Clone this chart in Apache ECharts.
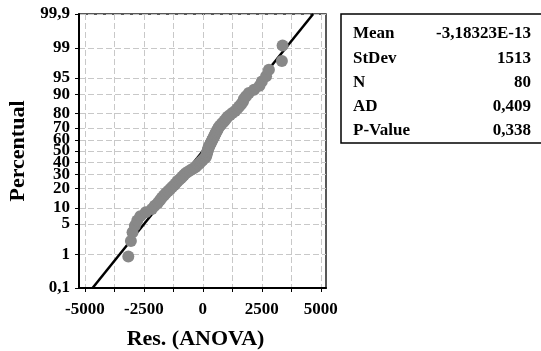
<!DOCTYPE html>
<html>
<head>
<meta charset="utf-8">
<script src="https://cdn.jsdelivr.net/npm/echarts@6/dist/echarts.min.js"></script>
<style>
  html, body { margin: 0; padding: 0; background: #fff; }
  #chart { width: 541px; height: 351px; }
</style>
</head>
<body>
<div id="chart"></div>
<script>
// residuals, sorted
const residuals = [
  -3160, -3050, -2980, -2880, -2780, -2650, -2420, -2160, -2040, -1910,
  -1820, -1740, -1650, -1570, -1470, -1380, -1300, -1220, -1150, -1080,
  -1000, -930, -860, -800, -730, -630, -530, -420, -320, -250,
  -190, -130, -70, -10, 50, 120, 140, 160, 170, 190,
  210, 230, 240, 270, 300, 330, 360, 390, 420, 450,
  480, 510, 540, 570, 610, 640, 680, 740, 800, 860,
  930, 990, 1050, 1150, 1250, 1370, 1460, 1540, 1620, 1700,
  1740, 1830, 1950, 2170, 2400, 2500, 2680, 2800, 3350, 3380
];

// plotted percent of each point
const pctRank = [
  0.87, 2.11, 3.36, 4.60, 5.85, 7.09, 8.33, 9.58, 10.82, 12.06,
  13.31, 14.55, 15.80, 17.04, 18.28, 19.53, 20.77, 22.01, 23.26, 24.50,
  25.75, 26.99, 28.23, 29.48, 30.72, 31.97, 33.21, 34.45, 35.70, 36.94,
  38.18, 39.43, 40.67, 41.92, 43.16, 44.40, 45.65, 46.89, 48.13, 49.38,
  50.62, 51.87, 53.11, 54.35, 55.60, 56.84, 58.08, 59.33, 60.57, 61.82,
  63.06, 64.30, 65.55, 66.79, 68.03, 69.28, 70.52, 71.77, 73.01, 74.25,
  75.50, 76.74, 77.99, 79.23, 80.47, 81.72, 82.96, 84.20, 85.45, 86.69,
  87.94, 89.18, 90.42, 91.67, 92.91, 94.15, 95.40, 96.64, 97.89, 99.13
];

const yTickPct = [0.1, 1, 5, 10, 20, 30, 40, 50, 60, 70, 80, 90, 95, 99, 99.9];
const yTickLabels = ["0,1", "1", "5", "10", "20", "30", "40", "50", "60", "70", "80", "90", "95", "99", "99,9"];
const xTickValues = [-5000, -2500, 0, 2500, 5000];
const xGridValues = [-5000, -3750, -2500, -1250, 0, 1250, 2500, 3750, 5000];

const fitMean = 0;
const fitSd = 1513;

const statLabels = ["Mean", "StDev", "N", "AD", "P-Value"];
const statValues = ["-3,18323E-13", "1513", "80", "0,409", "0,338"];

// inverse normal cdf (Acklam), used as the probability scale
function normInv(p) {
  const a = [-3.969683028665376e+01, 2.209460984245205e+02, -2.759285104469687e+02, 1.383577518672690e+02, -3.066479806614716e+01, 2.506628277459239e+00];
  const b = [-5.447609879822406e+01, 1.615858368580409e+02, -1.556989798598866e+02, 6.680131188771972e+01, -1.328068155288572e+01];
  const c = [-7.784894002430293e-03, -3.223964580411365e-01, -2.400758277161838e+00, -2.549671348593376e+00, 4.374664141464968e+00, 2.938163982698783e+00];
  const d = [7.784695709041462e-03, 3.224671290700398e-01, 2.445134137142996e+00, 3.754408661907416e+00];
  const pl = 0.02425;
  let q, r;
  if (p < pl) {
    q = Math.sqrt(-2 * Math.log(p));
    return (((((c[0] * q + c[1]) * q + c[2]) * q + c[3]) * q + c[4]) * q + c[5]) / ((((d[0] * q + d[1]) * q + d[2]) * q + d[3]) * q + 1);
  }
  if (p <= 1 - pl) {
    q = p - 0.5; r = q * q;
    return (((((a[0] * r + a[1]) * r + a[2]) * r + a[3]) * r + a[4]) * r + a[5]) * q / (((((b[0] * r + b[1]) * r + b[2]) * r + b[3]) * r + b[4]) * r + 1);
  }
  q = Math.sqrt(-2 * Math.log(1 - p));
  return -(((((c[0] * q + c[1]) * q + c[2]) * q + c[3]) * q + c[4]) * q + c[5]) / ((((d[0] * q + d[1]) * q + d[2]) * q + d[3]) * q + 1);
}

const yTickZ = yTickPct.map((p) => normInv(p / 100));
const yMin = yTickZ[0];
const yMax = yTickZ[yTickZ.length - 1];

const points = residuals.map((r, i) => [r, normInv(pctRank[i] / 100)]);
const fitLine = [
  [fitMean + fitSd * yMin, yMin],
  [fitMean + fitSd * yMax, yMax],
];

const FONT = '"Liberation Serif", "Times New Roman", serif';
const gridLine = { color: "#c8c8c8", width: 1, type: [6, 3] };

const statGraphics = [
  {
    type: "rect",
    shape: { x: 341, y: 14, width: 215, height: 129 },
    style: { fill: "#fff", stroke: "#000", lineWidth: 1.5 },
  },
];
statLabels.forEach((label, i) => {
  const y = 34 + i * 24.2;
  statGraphics.push({
    type: "text", x: 353, y,
    style: { text: label, font: `bold 17px ${FONT}`, fill: "#000", verticalAlign: "middle" },
  });
  statGraphics.push({
    type: "text", x: 531, y,
    style: { text: statValues[i], font: `bold 17px ${FONT}`, fill: "#000", align: "right", verticalAlign: "middle" },
  });
});

const chart = echarts.init(document.getElementById("chart"));
chart.setOption({
  animation: false,
  grid: {
    left: 79, top: 14, right: 215, bottom: 63,
    outerBoundsMode: "none",
    containLabel: false,
    show: true, borderColor: "#222", borderWidth: 1.5,
  },
  xAxis: {
    type: "value",
    min: -5250,
    max: 5220,
    axisLine: { onZero: false, lineStyle: { color: "#000", width: 2 } },
    axisTick: { show: true, customValues: xGridValues, length: 4, lineStyle: { color: "#000" } },
    axisLabel: {
      customValues: xTickValues,
      formatter: (v) => String(v),
      color: "#000", fontFamily: FONT, fontWeight: "bold", fontSize: 17, margin: 13,
    },
    splitLine: { show: true, lineStyle: gridLine },
    name: "Res. (ANOVA)",
    nameLocation: "middle",
    nameGap: 40,
    nameTextStyle: { color: "#000", fontFamily: FONT, fontWeight: "bold", fontSize: 22, padding: [0, 14, 0, 0] },
  },
  yAxis: {
    type: "value",
    min: yMin,
    max: yMax,
    axisLine: { show: true, onZero: false, lineStyle: { color: "#000", width: 2 } },
    axisTick: { show: true, customValues: yTickZ, length: 4, lineStyle: { color: "#000" } },
    axisLabel: {
      customValues: yTickZ,
      formatter: (v) => {
        let best = 0;
        yTickZ.forEach((z, i) => { if (Math.abs(z - v) < Math.abs(yTickZ[best] - v)) best = i; });
        return yTickLabels[best];
      },
      color: "#000", fontFamily: FONT, fontWeight: "bold", fontSize: 17, margin: 9,
    },
    splitLine: { show: true, lineStyle: gridLine },
    name: "Percentual",
    nameLocation: "middle",
    nameGap: 50,
    nameTextStyle: { color: "#000", fontFamily: FONT, fontWeight: "bold", fontSize: 22 },
  },
  series: [
    {
      type: "line",
      data: fitLine,
      showSymbol: false,
      lineStyle: { color: "#000", width: 2.5 },
      z: 2,
    },
    {
      type: "scatter",
      data: points,
      symbolSize: 12,
      itemStyle: { color: "#888888", opacity: 1 },
      z: 3,
    },
  ],
  graphic: statGraphics,
});
</script>
</body>
</html>
